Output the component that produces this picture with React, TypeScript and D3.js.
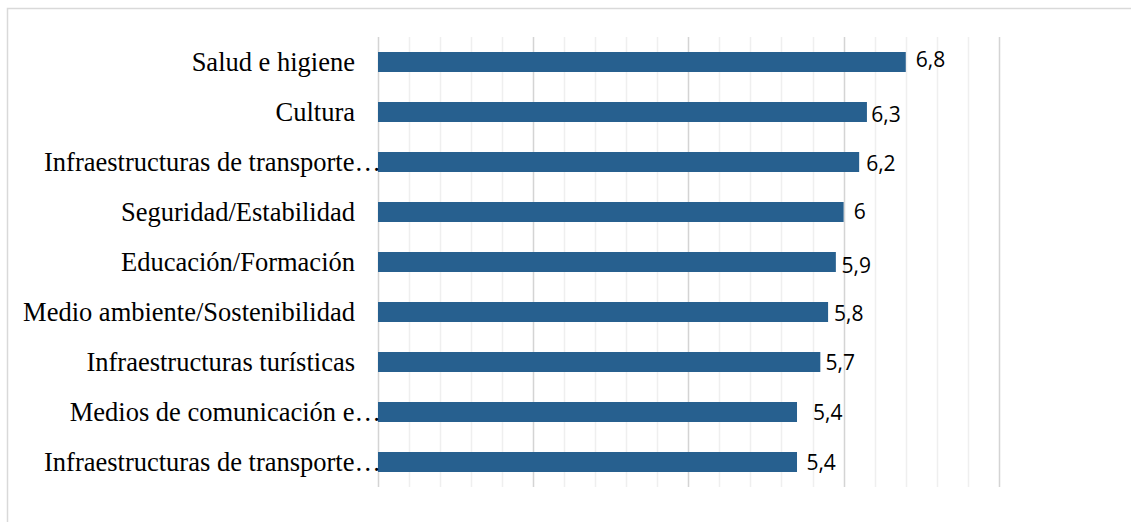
import React from "react";
import * as d3 from "d3";

const categories = [
  "Salud e higiene",
  "Cultura",
  "Infraestructuras de transporte…",
  "Seguridad/Estabilidad",
  "Educación/Formación",
  "Medio ambiente/Sostenibilidad",
  "Infraestructuras turísticas",
  "Medios de comunicación e…",
  "Infraestructuras de transporte…",
];
const values = [6.8, 6.3, 6.2, 6, 5.9, 5.8, 5.7, 5.4, 5.4];
const valueLabels = ["6,8", "6,3", "6,2", "6", "5,9", "5,8", "5,7", "5,4", "5,4"];
const axisMax = 8;
const minorStep = 0.4;
const majorStep = 2;

export default function App() {
  const W = 1131;
  const H = 522;
  const left = 377.5;
  const right = 999;
  const top = 37;
  const bottom = 487;

  const ids = categories.map((_, i) => String(i));
  const x = d3.scaleLinear().domain([0, axisMax]).range([left, right]);
  const y = d3
    .scaleBand<string>()
    .domain(ids)
    .range([top, bottom])
    .paddingInner(0.6)
    .paddingOuter(0.3);

  const n = Math.round(axisMax / minorStep);
  const ticks = d3.range(0, n + 1).map((k) => k * minorStep);

  // manual label nudges (layout only)
  const nudgeX = [10, 4.4, 7, 10, 5.6, 6, 5.3, 16, 9.4];
  const nudgeY = [-2.7, 2, 1.5, -1, 3.8, 1.7, 0.5, 0.5, 0.5];

  return (
    <svg
      width={W}
      height={H}
      style={{ position: "absolute", left: 0, top: 0, background: "#fff" }}
    >
      <rect x={0} y={0} width={W} height={H} fill="#ffffff" />
      <rect
        x={7.5}
        y={8.5}
        width={W + 20}
        height={H + 20}
        fill="#ffffff"
        stroke="#d9d9d9"
        strokeWidth={1.5}
      />
      {ticks.map((t, i) => {
        const major = Math.abs(t / majorStep - Math.round(t / majorStep)) < 1e-6;
        const xx = Math.round(x(t)) + 0.5;
        return (
          <line
            key={i}
            x1={xx}
            x2={xx}
            y1={top}
            y2={bottom}
            stroke={major ? "#d4d4d4" : "#efefef"}
            strokeWidth={major ? 1.5 : 1.5}
          />
        );
      })}
      {values.map((v, i) => (
        <rect
          key={i}
          x={x(0) + 0.5}
          y={y(ids[i])!}
          width={x(v) - x(0) - 0.5}
          height={y.bandwidth()}
          fill="#27608f"
        />
      ))}
      {categories.map((c, i) => {
        const trunc = c.endsWith("…");
        return (
          <text
            key={i}
            x={trunc ? 381 : 355}
            y={y(ids[i])! + y.bandwidth() / 2}
            dy="0.34em"
            textAnchor="end"
            fontFamily="'Liberation Serif', 'Times New Roman', serif"
            fontSize={26.5}
            fill="#000"
          >
            {c}
          </text>
        );
      })}
      {values.map((v, i) => (
        <text
          key={i}
          x={x(v) + nudgeX[i]}
          y={y(ids[i])! + y.bandwidth() / 2 + nudgeY[i]}
          dy="0.36em"
          textAnchor="start"
          fontFamily="'Open Sans', sans-serif"
          fontSize={21}
          fill="#000"
        >
          {valueLabels[i]}
        </text>
      ))}
    </svg>
  );
}
